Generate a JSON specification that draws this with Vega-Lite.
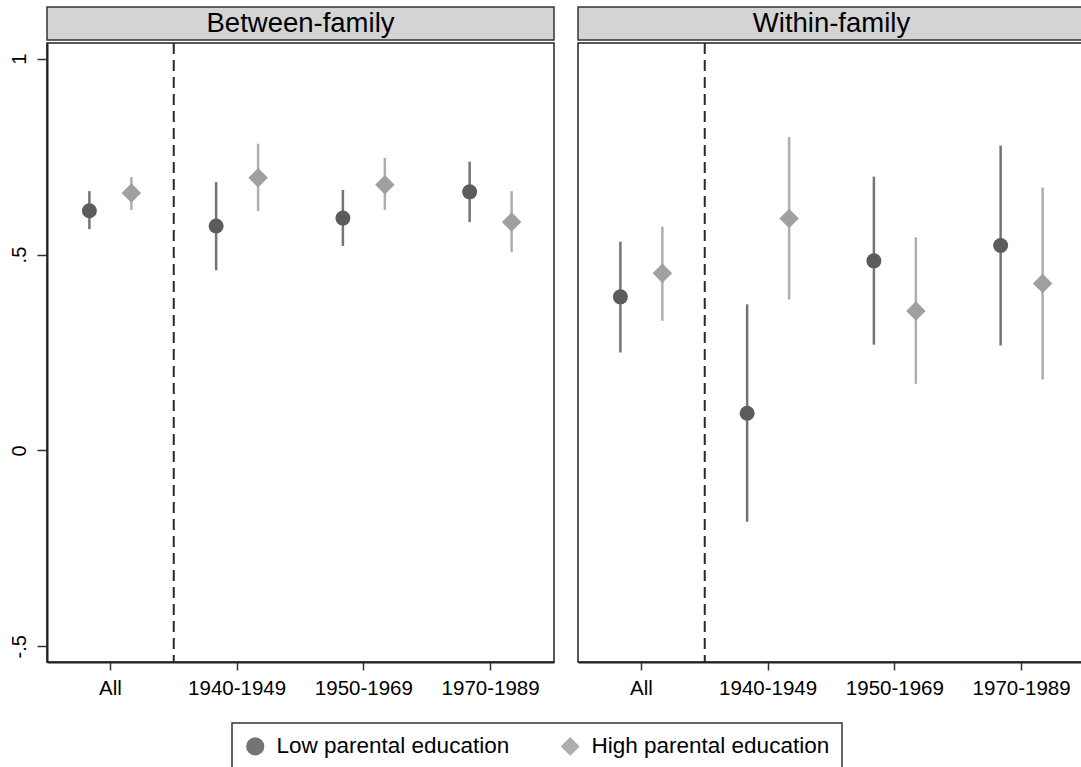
{
  "$schema": "https://vega.github.io/schema/vega-lite/v6.json",
  "padding": {"left": 8, "top": 6, "right": 0, "bottom": 0},
  "background": "white",
  "config": {
    "font": "Liberation Sans",
    "axis": {"grid": false, "labelColor": "black", "domainColor": "#222", "tickColor": "#333"},
    "legend": {"labelFont": "Liberation Sans", "orient": "none", "legendX": 185, "legendY": 716, "direction": "horizontal", "title": null, "strokeColor": "#333", "strokeWidth": 1.5, "padding": 12, "labelFontSize": 22.5, "labelLimit": 400, "symbolSize": 280, "columnPadding": 48, "labelOffset": 10, "labelColor": "black"}
  },
  "datasets": {
    "est": [
      {"panel": "Between-family", "cohort": "All", "group": "Low parental education", "est": 0.612, "lo": 0.565, "hi": 0.662},
      {"panel": "Between-family", "cohort": "All", "group": "High parental education", "est": 0.657, "lo": 0.614, "hi": 0.698},
      {"panel": "Between-family", "cohort": "1940-1949", "group": "Low parental education", "est": 0.573, "lo": 0.46, "hi": 0.685},
      {"panel": "Between-family", "cohort": "1940-1949", "group": "High parental education", "est": 0.696, "lo": 0.611, "hi": 0.783},
      {"panel": "Between-family", "cohort": "1950-1969", "group": "Low parental education", "est": 0.593, "lo": 0.522, "hi": 0.665},
      {"panel": "Between-family", "cohort": "1950-1969", "group": "High parental education", "est": 0.678, "lo": 0.614, "hi": 0.747},
      {"panel": "Between-family", "cohort": "1970-1989", "group": "Low parental education", "est": 0.66, "lo": 0.583, "hi": 0.737},
      {"panel": "Between-family", "cohort": "1970-1989", "group": "High parental education", "est": 0.583, "lo": 0.506, "hi": 0.662},
      {"panel": "Within-family", "cohort": "All", "group": "Low parental education", "est": 0.392, "lo": 0.25, "hi": 0.533},
      {"panel": "Within-family", "cohort": "All", "group": "High parental education", "est": 0.452, "lo": 0.331, "hi": 0.571},
      {"panel": "Within-family", "cohort": "1940-1949", "group": "Low parental education", "est": 0.095, "lo": -0.182, "hi": 0.373},
      {"panel": "Within-family", "cohort": "1940-1949", "group": "High parental education", "est": 0.592, "lo": 0.385, "hi": 0.8},
      {"panel": "Within-family", "cohort": "1950-1969", "group": "Low parental education", "est": 0.484, "lo": 0.27, "hi": 0.699},
      {"panel": "Within-family", "cohort": "1950-1969", "group": "High parental education", "est": 0.356, "lo": 0.17, "hi": 0.544},
      {"panel": "Within-family", "cohort": "1970-1989", "group": "Low parental education", "est": 0.523, "lo": 0.268, "hi": 0.778},
      {"panel": "Within-family", "cohort": "1970-1989", "group": "High parental education", "est": 0.426, "lo": 0.181, "hi": 0.671}
    ]
  },
  "hconcat": [
    {
      "spacing": 0,
      "vconcat": [
        {
          "width": 507, "height": 33,
          "view": {"fill": "#d4d4d4", "stroke": "#333", "strokeWidth": 1.5},
          "data": {"values": [{"t": "Between-family"}]},
          "mark": {"type": "text", "fontSize": 27.5, "color": "black", "font": "Liberation Sans"},
          "encoding": {"text": {"field": "t"}}
        },
        {
          "width": 507, "height": 619,
          "view": {"stroke": "#222", "strokeWidth": 1.5},
          "encoding": {
            "x": {"field": "cohort", "type": "nominal", "title": null,
              "scale": {"type": "band", "domain": ["All", "1940-1949", "1950-1969", "1970-1989"], "paddingInner": 0, "paddingOuter": 0},
              "axis": {"labelAngle": 0, "labelFontSize": 20.5, "tickSize": 8, "labelPadding": 8, "domainWidth": 2, "tickWidth": 1.5}}
          },
          "layer": [
            {
              "data": {"values": [{"cohort": "All"}]},
              "mark": {"type": "rule", "strokeDash": [11, 6], "color": "#2a2a2a", "strokeWidth": 2},
              "encoding": {"x": {"field": "cohort", "type": "nominal", "bandPosition": 1}}
            },
            {
              "data": {"name": "est"},
              "transform": [{"filter": "datum.panel == 'Between-family'"}],
              "mark": {"type": "rule", "strokeWidth": 2.5, "opacity": 0.85},
              "encoding": {
                "xOffset": {"field": "group", "type": "nominal", "scale": {"domain": ["Low parental education", "High parental education"], "paddingInner": 0, "paddingOuter": 0.51}},
                "y": {"field": "lo", "type": "quantitative", "title": null,
                  "scale": {"domain": [-0.540, 1.040], "nice": false, "zero": false},
                  "axis": {"values": [-0.5, 0, 0.5, 1], "labelExpr": "datum.value == 1 ? '1' : datum.value == 0.5 ? '.5' : datum.value == 0 ? '0' : '-.5'", "labelAngle": -90, "labelAlign": "center", "labelBaseline": "bottom", "labelFontSize": 20, "tickSize": 10, "labelPadding": 8, "domainWidth": 2, "tickWidth": 1.5}},
                "y2": {"field": "hi"},
                "color": {"field": "group", "type": "nominal", "scale": {"domain": ["Low parental education", "High parental education"], "range": ["#5c5c5c", "#a0a0a0"]}}
              }
            },
            {
              "data": {"name": "est"},
              "transform": [{"filter": "datum.panel == 'Between-family' && datum.group == 'Low parental education'"}],
              "mark": {"type": "point", "filled": true, "opacity": 1, "size": 225},
              "encoding": {
                "xOffset": {"field": "group", "type": "nominal"},
                "y": {"field": "est", "type": "quantitative"},
                "color": {"field": "group", "type": "nominal"},
                "shape": {"field": "group", "type": "nominal", "scale": {"domain": ["Low parental education", "High parental education"], "range": ["circle", "diamond"]}}
              }
            },
            {
              "data": {"name": "est"},
              "transform": [{"filter": "datum.panel == 'Between-family' && datum.group == 'High parental education'"}],
              "mark": {"type": "point", "filled": true, "opacity": 1, "size": 380},
              "encoding": {
                "xOffset": {"field": "group", "type": "nominal"},
                "y": {"field": "est", "type": "quantitative"},
                "color": {"field": "group", "type": "nominal"},
                "shape": {"field": "group", "type": "nominal"}
              }
            }
          ]
        }
      ]
    },
    {
      "spacing": 0,
      "vconcat": [
        {
          "width": 507, "height": 33,
          "view": {"fill": "#d4d4d4", "stroke": "#333", "strokeWidth": 1.5},
          "data": {"values": [{"t": "Within-family"}]},
          "mark": {"type": "text", "fontSize": 27.5, "color": "black", "font": "Liberation Sans"},
          "encoding": {"text": {"field": "t"}}
        },
        {
          "width": 507, "height": 619,
          "view": {"stroke": "#222", "strokeWidth": 1.5},
          "encoding": {
            "x": {"field": "cohort", "type": "nominal", "title": null,
              "scale": {"type": "band", "domain": ["All", "1940-1949", "1950-1969", "1970-1989"], "paddingInner": 0, "paddingOuter": 0},
              "axis": {"labelAngle": 0, "labelFontSize": 20.5, "tickSize": 8, "labelPadding": 8, "domainWidth": 2, "tickWidth": 1.5}}
          },
          "layer": [
            {
              "data": {"values": [{"cohort": "All"}]},
              "mark": {"type": "rule", "strokeDash": [11, 6], "color": "#2a2a2a", "strokeWidth": 2},
              "encoding": {"x": {"field": "cohort", "type": "nominal", "bandPosition": 1}}
            },
            {
              "data": {"name": "est"},
              "transform": [{"filter": "datum.panel == 'Within-family'"}],
              "mark": {"type": "rule", "strokeWidth": 2.5, "opacity": 0.85},
              "encoding": {
                "xOffset": {"field": "group", "type": "nominal", "scale": {"domain": ["Low parental education", "High parental education"], "paddingInner": 0, "paddingOuter": 0.51}},
                "y": {"field": "lo", "type": "quantitative", "title": null,
                  "scale": {"domain": [-0.540, 1.040], "nice": false, "zero": false},
                  "axis": null},
                "y2": {"field": "hi"},
                "color": {"field": "group", "type": "nominal"}
              }
            },
            {
              "data": {"name": "est"},
              "transform": [{"filter": "datum.panel == 'Within-family' && datum.group == 'Low parental education'"}],
              "mark": {"type": "point", "filled": true, "opacity": 1, "size": 225},
              "encoding": {
                "xOffset": {"field": "group", "type": "nominal"},
                "y": {"field": "est", "type": "quantitative"},
                "color": {"field": "group", "type": "nominal"},
                "shape": {"field": "group", "type": "nominal"}
              }
            },
            {
              "data": {"name": "est"},
              "transform": [{"filter": "datum.panel == 'Within-family' && datum.group == 'High parental education'"}],
              "mark": {"type": "point", "filled": true, "opacity": 1, "size": 380},
              "encoding": {
                "xOffset": {"field": "group", "type": "nominal"},
                "y": {"field": "est", "type": "quantitative"},
                "color": {"field": "group", "type": "nominal"},
                "shape": {"field": "group", "type": "nominal"}
              }
            }
          ]
        }
      ]
    }
  ],
  "spacing": 22,
  "resolve": {"scale": {"color": "shared", "shape": "shared"}, "legend": {"color": "shared", "shape": "shared"}}
}
